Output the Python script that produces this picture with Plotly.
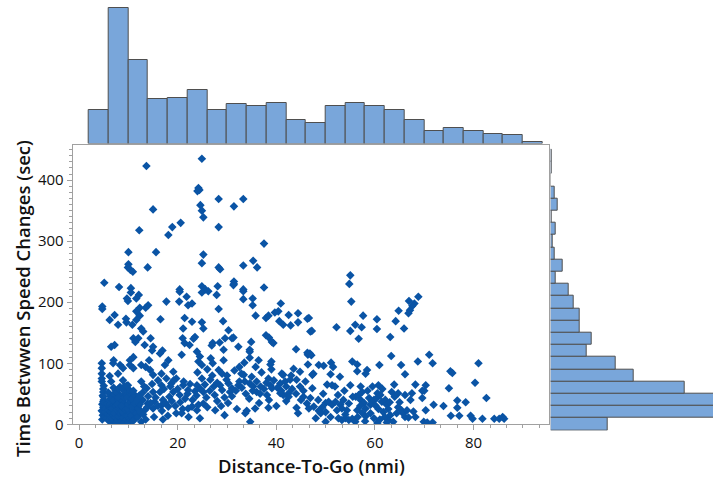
import plotly.graph_objects as go

# ---------------- data ----------------
# scatter points, grouped by region: (Distance-To-Go nmi, Time between speed changes sec)
upper_pts = [
    (13.65, 423), (24.9, 435), (24.2, 387), (24.0, 382), (24.4, 384), (28.3, 369), (33.3, 369),
    (31.4, 357), (15.0, 352), (24.6, 359), (24.9, 350), (25.2, 339), (28.3, 323), (20.6, 330),
    (18.9, 323), (18.1, 310), (12.2, 318), (37.5, 296), (10.0, 282), (15.6, 282), (25.2, 278),
    (24.9, 264), (10.0, 262), (9.9, 257), (10.4, 253), (10.9, 250), (13.9, 257), (28.3, 257),
    (28.6, 254), (35.3, 268), (33.3, 260), (36.1, 257), (5.1, 232), (8.1, 225), (10.5, 223),
    (31.4, 234), (31.4, 230), (24.9, 226), (28.1, 226), (37.5, 224), (20.4, 221), (25.6, 221),
    (33.3, 221), (55.0, 244), (54.8, 230),
]
left_pts = [
    (10.5, 216), (9.7, 206), (9.9, 202), (12.1, 212), (11.6, 206), (14.0, 195), (13.5, 191),
    (12.3, 191), (4.7, 193), (4.7, 189), (11.6, 185), (12.3, 178), (11.6, 171), (7.2, 179),
    (6.2, 171), (9.5, 173), (9.6, 167), (10.8, 163), (7.9, 163), (16.5, 172), (17.7, 201),
    (20.4, 217), (21.8, 209), (20.3, 201), (22.1, 195), (12.6, 157), (13.0, 152), (12.0, 141),
    (11.0, 141), (11.4, 135), (14.5, 141), (13.3, 130), (15.0, 127), (14.8, 121), (7.2, 130),
    (6.5, 127), (16.9, 121), (16.4, 116), (21.4, 174), (21.1, 157), (21.0, 141), (21.4, 133),
    (22.4, 130), (20.8, 114), (11.0, 110), (10.3, 105), (12.6, 97), (7.0, 105), (6.9, 100),
    (8.3, 97), (4.6, 100), (4.6, 92), (4.6, 83), (4.6, 75), (4.6, 70), (8.9, 92), (7.9, 83),
    (10.3, 97), (11.0, 92), (14.2, 105), (13.5, 94), (18.1, 105), (17.4, 97), (14.4, 89),
    (15.0, 81), (16.7, 83), (17.7, 75), (19.1, 86), (19.7, 75), (18.7, 67), (12.6, 70),
    (6.2, 79), (6.5, 70), (8.9, 72), (9.9, 64), (8.3, 61), (13.7, 59), (15.0, 53), (16.7, 64),
    (16.4, 53), (19.1, 53), (20.4, 48), (21.1, 64), (22.1, 56), (4.9, 53), (4.9, 45), (4.9, 37),
    (11.6, 42), (12.9, 40), (13.9, 34), (15.3, 37), (17.0, 40), (12.0, 29), (13.3, 23),
    (15.0, 26), (16.7, 31), (18.1, 29), (19.7, 18), (22.1, 26), (12.6, 4), (9.3, 4), (7.8, 12),
]
cluster_pts = [
    (4.7, 8), (4.8, 15), (4.6, 22), (4.9, 28), (4.7, 33), (5.0, 40), (4.8, 47), (5.2, 12),
    (5.3, 20), (5.1, 36), (5.4, 26), (4.9, 58), (5.0, 63),
    (5.6, 10), (5.8, 17), (6.0, 23), (6.2, 29), (5.7, 34), (6.1, 40), (6.4, 46), (5.9, 52),
    (6.3, 14), (6.0, 6), (6.5, 20), (6.3, 33),
    (6.6, 3), (6.8, 9), (7.0, 15), (6.7, 21), (7.2, 26), (6.9, 31), (7.3, 37), (6.6, 43),
    (7.1, 49), (7.4, 55), (7.0, 60), (7.4, 11), (6.8, 26), (7.2, 18), (7.5, 30), (6.9, 39),
    (7.6, 2), (7.8, 7), (8.0, 13), (8.2, 19), (7.7, 24), (8.1, 29), (8.4, 35), (7.9, 41),
    (8.3, 47), (7.6, 52), (8.0, 58), (8.5, 10), (8.2, 26), (7.8, 33), (8.4, 22), (8.0, 44),
    (8.6, 5), (8.9, 11), (9.2, 16), (8.7, 22), (9.0, 27), (9.3, 33), (8.8, 38), (9.1, 44),
    (9.4, 50), (8.9, 56), (9.2, 62), (9.0, 2), (9.4, 24), (8.6, 30),
    (9.6, 8), (9.9, 14), (10.2, 20), (9.7, 26), (10.0, 32), (10.3, 38), (9.8, 44), (10.4, 50),
    (10.1, 57), (9.6, 63), (10.2, 10), (10.0, 3),
    (10.6, 15), (11.0, 22), (10.8, 29), (11.2, 35), (10.7, 42), (11.3, 48), (11.0, 55),
    (11.4, 10), (10.9, 5), (11.7, 18), (12.0, 26), (12.3, 33), (11.8, 40), (12.2, 47),
    (11.9, 12), (12.4, 20),
    (13.0, 16), (13.8, 28), (14.5, 35), (14.0, 46), (15.5, 44), (16.0, 30), (16.8, 22),
    (17.5, 35), (18.3, 45), (18.8, 38), (19.5, 30), (20.5, 36), (21.0, 25), (21.5, 42),
    (22.0, 50), (13.2, 62), (14.8, 66), (16.0, 72), (12.9, 52), (17.2, 58), (18.5, 62),
    (20.0, 58), (21.2, 70), (22.5, 66), (19.2, 72), (13.5, 8), (15.2, 12), (18.0, 14),
    (20.8, 18), (22.2, 12), (17.0, 8),
]
middle_pts = [
    (24.9, 216), (26.2, 218), (27.9, 212), (31.3, 228), (33.3, 218), (33.3, 205), (35.2, 206),
    (35.2, 195), (22.9, 198), (28.3, 189), (29.2, 169), (35.8, 178), (37.9, 174), (38.4, 178),
    (39.7, 183), (40.4, 185), (40.9, 198), (42.5, 179), (44.4, 182), (40.6, 169), (41.4, 163),
    (42.9, 162), (44.4, 167), (46.3, 173), (22.9, 168), (24.9, 167), (25.2, 157), (23.5, 143),
    (23.2, 140), (30.3, 154), (29.6, 141), (31.0, 141), (31.3, 142), (27.1, 133), (26.9, 129),
    (28.5, 134), (29.3, 122), (32.3, 127), (34.9, 135), (34.6, 122), (37.9, 146), (38.5, 142),
    (39.1, 135), (39.4, 133), (44.0, 123), (46.4, 114), (46.3, 117), (46.9, 152), (47.2, 153),
    (23.9, 119), (24.5, 111), (24.2, 103), (24.9, 97), (26.7, 108), (27.1, 100), (29.3, 105),
    (28.3, 89), (29.0, 83), (32.5, 94), (33.5, 101), (33.4, 81), (34.6, 119), (34.6, 109),
    (36.4, 105), (35.8, 94), (38.8, 98), (39.0, 103), (38.4, 75), (41.1, 83), (41.4, 81),
    (43.5, 91), (44.8, 86), (46.4, 98), (24.9, 75), (23.9, 64), (23.5, 54), (25.2, 53),
    (26.6, 73), (27.3, 62), (28.6, 64), (30.3, 67), (31.0, 59), (30.6, 53), (29.9, 73),
    (32.3, 64), (32.9, 83), (33.6, 70), (34.6, 67), (35.3, 62), (36.0, 53), (36.7, 50),
    (38.8, 64), (39.1, 59), (38.1, 48), (40.8, 67), (41.8, 70), (42.8, 73), (44.1, 73),
    (40.8, 51), (41.4, 48), (42.5, 51), (45.5, 45), (45.9, 70), (24.2, 32), (25.2, 34),
    (22.9, 29), (23.9, 23), (24.5, 10), (27.6, 23), (34.0, 22), (33.7, 18), (35.7, 26),
    (34.7, 4), (38.4, 27), (44.1, 27), (44.4, 18), (46.2, 34),
    (23.0, 40), (23.8, 47), (24.6, 58), (25.8, 44), (26.5, 55), (27.5, 48), (28.0, 38),
    (28.8, 30), (29.5, 44), (30.2, 35), (31.0, 46), (31.8, 55), (32.5, 70), (33.0, 60),
    (33.8, 50), (34.5, 42), (35.2, 55), (36.0, 70), (36.8, 62), (37.5, 58), (38.0, 68),
    (39.5, 72), (40.2, 60), (41.0, 55), (42.0, 62), (42.5, 45), (43.2, 58), (44.0, 50),
    (44.8, 62), (45.5, 55), (30.0, 80), (31.5, 88), (26.0, 90), (27.0, 80), (37.0, 85),
    (39.0, 90), (43.0, 80), (35.0, 78), (28.0, 68), (29.0, 56), (25.5, 65), (24.0, 85),
    (32.0, 25), (26.0, 28), (29.5, 15), (36.5, 35), (40.0, 30), (42.0, 38), (45.0, 40),
    (38.5, 40),
]
right_pts = [
    (55.2, 201), (68.8, 209), (68.0, 198), (67.6, 194), (67.1, 187), (66.8, 182), (66.9, 202),
    (64.8, 186), (64.2, 169), (65.9, 157), (63.1, 143), (57.6, 178), (60.4, 172), (60.4, 156),
    (56.0, 163), (57.3, 159), (55.0, 153), (56.7, 140), (52.2, 159), (46.6, 174), (46.8, 116),
    (47.1, 113), (48.6, 97), (49.6, 96), (51.1, 101), (51.5, 94), (47.5, 83), (47.3, 81),
    (52.9, 78), (51.0, 82), (55.4, 103), (56.4, 98), (56.4, 87), (58.4, 89), (58.1, 83),
    (60.9, 97), (63.3, 112), (65.3, 97), (66.1, 82), (68.7, 103), (50.3, 65), (51.3, 64),
    (51.9, 62), (47.3, 59), (55.0, 64), (57.1, 62), (57.4, 53), (56.7, 48), (60.7, 64),
    (60.5, 51), (63.9, 65), (63.4, 53), (64.7, 51), (66.1, 48), (68.2, 65), (69.6, 55),
    (67.5, 51), (67.2, 40), (46.9, 43), (47.6, 29), (48.6, 22), (49.3, 28), (50.0, 35),
    (50.6, 37), (51.3, 32), (52.3, 23), (52.0, 37), (53.0, 32), (53.3, 26), (53.6, 40),
    (54.3, 23), (54.7, 34), (52.6, 10), (53.3, 7), (54.0, 10), (54.7, 7), (55.4, 9), (56.0, 4),
    (56.1, 45), (57.1, 40), (57.8, 35), (58.1, 26), (56.4, 23), (57.4, 19), (58.8, 43),
    (59.1, 32), (59.4, 37), (59.8, 40), (60.1, 31), (60.4, 43), (61.1, 48), (61.4, 37),
    (62.1, 40), (62.4, 32), (58.1, 13), (59.8, 10), (59.1, 18), (60.7, 25), (61.7, 20),
    (62.7, 25), (63.1, 15), (62.7, 7), (63.7, 4), (62.4, 3), (64.7, 28), (65.4, 23), (65.7, 18),
    (66.5, 23), (66.1, 12), (64.4, 18), (67.8, 21), (66.8, 11), (68.2, 12), (69.6, 43),
    (70.3, 23), (69.9, 4), (50.0, 4), (49.0, 18), (48.0, 10), (46.6, 26),
    (48.5, 40), (49.5, 50), (52.5, 48), (53.8, 55), (55.5, 45), (58.5, 55), (59.5, 62),
    (61.5, 58), (62.0, 12), (63.0, 36), (64.0, 45), (65.0, 36), (58.0, 5), (60.5, 2), (61.0, 8),
    (56.5, 12), (57.0, 30), (54.0, 16), (51.0, 12), (50.0, 20),
]
far_pts = [
    (71.0, 114), (71.7, 100), (75.3, 87), (75.7, 84), (81.0, 100), (80.3, 68), (70.3, 64),
    (70.0, 55), (75.0, 59), (71.9, 32), (73.9, 30), (76.7, 39), (76.7, 27), (78.4, 36),
    (82.6, 43), (75.4, 14), (77.1, 14), (79.4, 14), (79.8, 9), (81.8, 9), (84.2, 9), (85.2, 9),
    (85.9, 12), (86.2, 9), (70.6, 3), (71.7, 3),
]

# marginal histogram of Distance-To-Go (bins of 4 nmi starting at 2)
dist_bin_centers = [4, 8, 12, 16, 20, 24, 28, 32, 36, 40, 44, 48, 52, 56, 60, 64, 68, 72, 76, 80, 84, 88, 92]
dist_bin_counts = [29, 116, 72, 38, 39, 46, 29, 34, 32, 35, 20, 18, 32, 35, 32, 29, 20, 11, 13, 11, 8, 7, 1]

# marginal histogram of time between speed changes (bins of 20 s centred on multiples of 20)
time_bin_centers = [0, 20, 40, 60, 80, 100, 120, 140, 160, 180, 200, 220, 240, 260, 280, 300, 320, 340, 360, 380, 400, 420, 440]
time_bin_counts = [49, 150, 145, 115, 71, 56, 31, 35, 25, 25, 20, 15, 4, 10, 3, 2, 4, 1, 6, 3, 0, 1, 1]

x_ticks = [0, 20, 40, 60, 80]
y_ticks = [0, 100, 200, 300, 400]
x_title = "Distance-To-Go (nmi)"
y_title = "Time Betwwen Speed Changes (sec)"

# ---------------- figure ----------------
all_pts = upper_pts + left_pts + cluster_pts + middle_pts + right_pts + far_pts
dist = [p[0] for p in all_pts]
tbsc = [p[1] for p in all_pts]

W, H = 713, 477
FONT = "Open Sans"
AX = "#A0A0A0"
FILL = "#79A6DA"
EDGE = "#4F4F4F"

def fx(px):
    return px / W

def fy(py):
    return (H - py) / H

fig = go.Figure()
fig.add_trace(go.Scatter(
    x=dist, y=tbsc, mode="markers",
    marker=dict(symbol="diamond", size=6.6, color="#0A54A5", line=dict(width=0)),
    xaxis="x", yaxis="y", showlegend=False, hoverinfo="skip"))
fig.add_trace(go.Bar(
    x=dist_bin_centers, y=dist_bin_counts, width=4,
    marker=dict(color=FILL, line=dict(color=EDGE, width=1)),
    xaxis="x2", yaxis="y2", showlegend=False))
fig.add_trace(go.Bar(
    y=time_bin_centers, x=time_bin_counts, width=20, orientation="h",
    marker=dict(color=FILL, line=dict(color=EDGE, width=1)),
    xaxis="x3", yaxis="y3", showlegend=False))

main_x_dom = [fx(72.7), fx(549)]
main_y_dom = [fy(424.3), fy(144.7)]
tickfont = dict(family=FONT, size=15, color="#111111")
titlefont = dict(family=FONT, size=18.5, color="#111111", weight=600)

fig.update_layout(
    template="none",
    width=W, height=H,
    margin=dict(l=0, r=0, t=0, b=0, autoexpand=False),
    paper_bgcolor="white", plot_bgcolor="white",
    bargap=0,
    xaxis=dict(domain=main_x_dom, range=[-1.3, 95.3], tickvals=x_ticks, automargin=False,
               ticks="outside", ticklen=5, tickcolor=AX, tickfont=tickfont,
               showline=True, linecolor=AX, linewidth=1, mirror=True,
               showgrid=False, zeroline=False,
               minor=dict(dtick=20 / 6, tick0=0, ticks="outside", ticklen=3, tickcolor=AX)),
    yaxis=dict(domain=main_y_dom, range=[0, 458], tickvals=y_ticks, automargin=False,
               ticks="outside", ticklen=5, tickcolor=AX, tickfont=tickfont,
               showline=True, linecolor=AX, linewidth=1, mirror=True,
               showgrid=False, zeroline=False,
               minor=dict(dtick=10, tick0=0, ticks="outside", ticklen=3, tickcolor=AX)),
    xaxis2=dict(domain=main_x_dom, range=[-1.3, 95.3], anchor="y2", visible=False, automargin=False),
    yaxis2=dict(domain=[fy(143.5), 1], range=[0, 123], anchor="x2", visible=False, automargin=False),
    xaxis3=dict(domain=[fx(550.7), 1], range=[0, 139], anchor="y3", visible=False, automargin=False),
    yaxis3=dict(domain=[fy(430.4), fy(144.7)], range=[-10, 458], anchor="x3", visible=False, automargin=False),
    annotations=[
        dict(text=x_title, xref="paper", yref="paper", x=fx(311), y=fy(465),
             xanchor="center", yanchor="middle", showarrow=False, font=titlefont),
        dict(text=y_title, xref="paper", yref="paper", x=fx(23), y=fy(299),
             xanchor="center", yanchor="middle", showarrow=False, textangle=-90,
             font=titlefont),
    ],
)

fig.write_html("out.html", config={"displayModeBar": False},
               post_script="document.body.style.margin='0';document.body.style.overflow='hidden';")
